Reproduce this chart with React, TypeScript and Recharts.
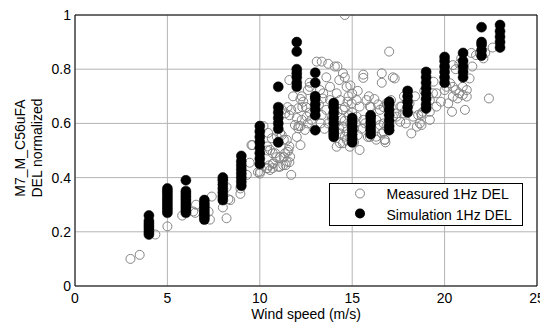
import React from "react";
import {
  ScatterChart,
  Scatter,
  XAxis,
  YAxis,
  CartesianGrid,
  ReferenceLine,
  Legend,
} from "recharts";

const xTicks = [0, 5, 10, 15, 20, 25];
const yTicks = [0, 0.2, 0.4, 0.6, 0.8, 1];
const yTickLabels = ["0", "0.2", "0.4", "0.6", "0.8", "1"];

const xLabel = "Wind speed (m/s)";
const yLabelLines = ["M7_M_C56uFA", "DEL normalized"];
const seriesNames = ["Measured 1Hz DEL", "Simulation 1Hz DEL"];

// Measured 1Hz DEL: [wind speed, normalized DEL]
const measured: [number, number][] = [
  [3.0, 0.1], [3.5, 0.115], [4.35, 0.19], [5.0, 0.22], [5.8, 0.26], [6.4, 0.275],
  [6.55, 0.3], [6.5, 0.27], [7.3, 0.245], [7.23, 0.274], [7.4, 0.33], [8.0, 0.29],
  [8.2, 0.25], [8.3, 0.32], [8.2, 0.365], [8.4, 0.317], [8.95, 0.34], [8.95, 0.36],
  [9.3, 0.41], [9.55, 0.52], [9.9, 0.42], [9.45, 0.455], [10.0, 0.415], [10.4, 0.435],
  [10.55, 0.428], [10.7, 0.435], [11.0, 0.44], [11.4, 0.446], [11.6, 0.457], [11.7, 0.41],
  [10.2, 0.59], [10.45, 0.565], [10.4, 0.5], [10.7, 0.45], [11.1, 0.44], [10.5, 0.445],
  [10.65, 0.545], [10.92, 0.551], [11.19, 0.557], [11.46, 0.539], [10.56, 0.502],
  [10.83, 0.49], [11.1, 0.477], [11.37, 0.49], [11.55, 0.502], [10.73, 0.453],
  [11.27, 0.446], [11.46, 0.459], [11.64, 0.477], [10.02, 0.422], [10.38, 0.434],
  [11.1, 0.565], [11.3, 0.54], [11.0, 0.53], [11.6, 0.515], [12.2, 0.52], [12.0, 0.55],
  [10.4, 0.515], [10.7, 0.49], [10.9, 0.475], [11.3, 0.475], [11.5, 0.495], [9.6, 0.52],
  [11.6, 0.76], [12.7, 0.75], [12.7, 0.735], [11.8, 0.7], [12.2, 0.69], [12.3, 0.66],
  [12.5, 0.66], [12.7, 0.64], [11.2, 0.65], [11.5, 0.66], [11.6, 0.63], [12.0, 0.62],
  [12.1, 0.59], [12.2, 0.59], [12.6, 0.6], [12.27, 0.7], [12.35, 0.68], [12.08, 0.656],
  [12.6, 0.723], [13.26, 0.723], [13.4, 0.692], [12.54, 0.625], [12.27, 0.613],
  [11.9, 0.594], [12.08, 0.582], [12.44, 0.576], [12.8, 0.613], [13.35, 0.631],
  [11.7, 0.65], [11.37, 0.637],
  [14.6, 1.0], [17.0, 0.865], [13.08, 0.828], [13.35, 0.828], [13.7, 0.82], [14.06, 0.81],
  [14.5, 0.785], [14.6, 0.77], [15.6, 0.78], [15.6, 0.768], [16.6, 0.785], [16.6, 0.75],
  [17.2, 0.77], [13.6, 0.77], [13.8, 0.735], [14.3, 0.76], [14.7, 0.735], [14.2, 0.81],
  [13.43, 0.711], [13.8, 0.686], [14.16, 0.711], [13.97, 0.662], [14.34, 0.686],
  [14.5, 0.65], [14.8, 0.7], [14.97, 0.674], [15.24, 0.686], [15.4, 0.662], [15.78, 0.686],
  [15.96, 0.662], [15.24, 0.625], [15.6, 0.613], [14.5, 0.588], [14.34, 0.563],
  [14.7, 0.539], [14.34, 0.527], [14.16, 0.514], [14.87, 0.514], [14.6, 0.551],
  [15.4, 0.502], [16.3, 0.551], [16.6, 0.563], [16.5, 0.65], [16.86, 0.674], [17.1, 0.686],
  [17.4, 0.637], [17.6, 0.662], [15.3, 0.557], [15.96, 0.55], [16.3, 0.54], [16.75, 0.54],
  [15.85, 0.55], [14.5, 0.527], [16.8, 0.53],
  [13.6, 0.65], [13.9, 0.62], [14.1, 0.6], [14.2, 0.64], [14.4, 0.62], [14.6, 0.61],
  [14.8, 0.63], [14.9, 0.6], [15.1, 0.58], [15.0, 0.64], [15.2, 0.6], [15.5, 0.58],
  [15.7, 0.6], [14.7, 0.57], [14.9, 0.55], [15.1, 0.53], [14.3, 0.58], [14.0, 0.56],
  [13.7, 0.6], [13.2, 0.67], [13.0, 0.7], [13.3, 0.6], [13.5, 0.58], [14.6, 0.66],
  [14.75, 0.68], [15.0, 0.71], [15.3, 0.72], [14.9, 0.74],
  [16.3, 0.613], [16.5, 0.594], [16.7, 0.6], [17.4, 0.625], [17.6, 0.606], [17.75, 0.637],
  [17.67, 0.662], [18.1, 0.674], [18.3, 0.625], [18.5, 0.588], [18.66, 0.6], [18.57, 0.631],
  [18.83, 0.643], [19.2, 0.686], [19.37, 0.711], [19.56, 0.662], [19.2, 0.613], [17.9, 0.6],
  [18.75, 0.594], [18.2, 0.563], [17.2, 0.625], [16.86, 0.588], [16.77, 0.539], [16.7, 0.569],
  [19.2, 0.643], [18.75, 0.637], [19.4, 0.754], [19.56, 0.711], [20.0, 0.723], [17.3, 0.766],
  [15.9, 0.7], [16.2, 0.69], [16.0, 0.66], [16.4, 0.67], [16.7, 0.66], [16.9, 0.67],
  [17.8, 0.7], [18.0, 0.72], [18.4, 0.7], [18.9, 0.72], [19.0, 0.69], [19.8, 0.68],
  [20.45, 0.815], [20.6, 0.8], [20.8, 0.82], [21.5, 0.81], [20.1, 0.735], [20.3, 0.748],
  [20.45, 0.735], [20.6, 0.723], [20.8, 0.711], [20.98, 0.735], [21.2, 0.723], [21.35, 0.766],
  [20.45, 0.699], [20.7, 0.692], [20.98, 0.705], [21.2, 0.699], [22.4, 0.692], [21.1, 0.65],
  [20.4, 0.643], [20.2, 0.674], [18.75, 0.631], [21.7, 0.852], [21.9, 0.859], [22.1, 0.84],
  [20.9, 0.84], [21.45, 0.86], [22.2, 0.86], [22.6, 0.88],
];

// Simulation 1Hz DEL: per integer wind speed, the DEL values
const simWindSpeeds = [4, 5, 6, 7, 8, 9, 10, 11, 12, 13, 14, 15, 16, 17, 18, 19, 20, 21, 22, 23];
const simDelValues: number[][] = [
  [0.19, 0.2, 0.21, 0.22, 0.23, 0.24, 0.26],
  [0.27, 0.28, 0.29, 0.3, 0.31, 0.32, 0.33, 0.34, 0.35, 0.36],
  [0.27, 0.28, 0.29, 0.3, 0.31, 0.32, 0.33, 0.34, 0.35, 0.39],
  [0.245, 0.255, 0.265, 0.275, 0.285, 0.295, 0.305, 0.317],
  [0.317, 0.33, 0.345, 0.36, 0.375, 0.39, 0.4],
  [0.37, 0.385, 0.4, 0.415, 0.43, 0.445, 0.46, 0.48],
  [0.45, 0.47, 0.49, 0.51, 0.53, 0.55, 0.57, 0.59],
  [0.53, 0.58, 0.6, 0.62, 0.64, 0.66, 0.735],
  [0.735, 0.75, 0.77, 0.785, 0.8, 0.865, 0.9],
  [0.575, 0.63, 0.65, 0.67, 0.69, 0.7, 0.75, 0.787],
  [0.55, 0.56, 0.57, 0.58, 0.6, 0.62, 0.64, 0.66, 0.675],
  [0.53, 0.545, 0.56, 0.575, 0.59, 0.605, 0.62],
  [0.56, 0.575, 0.59, 0.605, 0.62, 0.63],
  [0.575, 0.59, 0.61, 0.63, 0.65, 0.67, 0.68],
  [0.64, 0.66, 0.68, 0.7, 0.72],
  [0.655, 0.67, 0.69, 0.71, 0.73, 0.75, 0.77, 0.79],
  [0.75, 0.77, 0.79, 0.81, 0.83, 0.845],
  [0.77, 0.79, 0.81, 0.83, 0.86],
  [0.85, 0.87, 0.89, 0.9, 0.955],
  [0.88, 0.9, 0.92, 0.94, 0.963],
];

const measuredData = measured.map(([wind, del]) => ({ wind, del }));
const simData = simWindSpeeds.flatMap((wind, i) =>
  simDelValues[i].map((del) => ({ wind, del }))
);

const FONT = "'Liberation Sans', Arial, Helvetica, sans-serif";
const MEAS_COLOR = "#858585";

const OpenCircle = (props: any) => (
  <circle cx={props.cx} cy={props.cy} r={4.5} fill="none" stroke={MEAS_COLOR} strokeWidth={1} />
);
const FilledCircle = (props: any) => (
  <circle cx={props.cx} cy={props.cy} r={5} fill="#000" stroke="#000" strokeWidth={0.5} />
);

const YLabel = () => (
  <g fontFamily={FONT} fontSize={14} fill="#000">
    <text x={25} y={148} transform="rotate(-90 25 148)" textAnchor="middle">
      {yLabelLines[0]}
    </text>
    <text x={41.5} y={148} transform="rotate(-90 41.5 148)" textAnchor="middle">
      {yLabelLines[1]}
    </text>
  </g>
);

const XLabel = () => (
  <text x={306} y={318.5} textAnchor="middle" fontFamily={FONT} fontSize={14} fill="#000">
    {xLabel}
  </text>
);

const LegendBox = () => (
  <div
    style={{
      width: 194,
      height: 43,
      boxSizing: "border-box",
      border: "1px solid #000",
      background: "#fff",
      fontFamily: FONT,
      fontSize: 14,
      color: "#000",
      position: "relative",
    }}
  >
    <svg width={194} height={43} style={{ position: "absolute", left: -1, top: -1 }}>
      <circle cx={31} cy={10.5} r={4.5} fill="none" stroke={MEAS_COLOR} />
      <circle cx={31} cy={30.5} r={5} fill="#000" />
      <text x={57.5} y={16} fontFamily={FONT} fontSize={14}>{seriesNames[0]}</text>
      <text x={57.5} y={36.5} fontFamily={FONT} fontSize={14}>{seriesNames[1]}</text>
    </svg>
  </div>
);

export default function App() {
  return (
    <div style={{ position: "absolute", left: 0, top: 0, background: "#fff" }}>
      <ScatterChart
        width={540}
        height={327}
        margin={{ top: 15, right: 3, bottom: 0, left: 0 }}
        style={{ fontFamily: FONT }}
      >
        <CartesianGrid stroke="#b4b4b4" strokeWidth={1} />
        <XAxis
          type="number"
          dataKey="wind"
          domain={[0, 25]}
          ticks={xTicks}
          interval={0}
          height={41}
          tickLine={false}
          tickSize={0}
          tickMargin={7}
          axisLine={{ stroke: "#000" }}
          tick={{ fill: "#000", fontSize: 14, fontFamily: FONT }}
          allowDataOverflow
          label={XLabel}
        />
        <YAxis
          type="number"
          dataKey="del"
          domain={[0, 1]}
          ticks={yTicks}
          interval={0}
          width={75}
          tickLine={false}
          tickSize={0}
          tickMargin={4}
          axisLine={{ stroke: "#000" }}
          tick={{ fill: "#000", fontSize: 14, fontFamily: FONT }}
          tickFormatter={(v: number) => yTickLabels[yTicks.indexOf(v)] ?? String(v)}
          allowDataOverflow
          label={YLabel}
        />
        <ReferenceLine y={1} stroke="#000" strokeWidth={1} />
        <ReferenceLine x={25} stroke="#000" strokeWidth={1} />
        <Scatter
          name={seriesNames[0]}
          data={measuredData}
          shape={OpenCircle}
          isAnimationActive={false}
        />
        <Scatter
          name={seriesNames[1]}
          data={simData}
          shape={FilledCircle}
          isAnimationActive={false}
        />
        <Legend
          layout="horizontal"
          verticalAlign="middle"
          align="center"
          content={LegendBox}
          wrapperStyle={{ left: 329, top: 183, width: 194, height: 43 }}
        />
      </ScatterChart>
    </div>
  );
}
